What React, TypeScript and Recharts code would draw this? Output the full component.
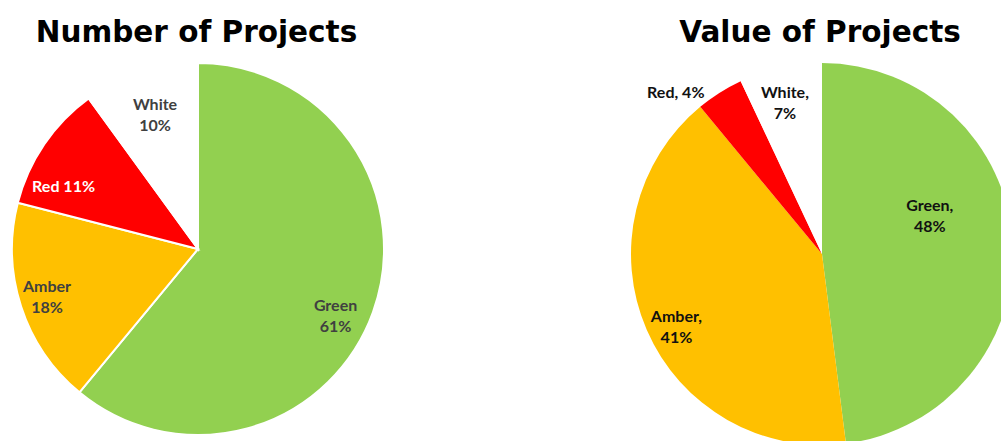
import React from 'react';
import { PieChart, Pie, Cell } from 'recharts';

const categories = ['Green', 'Amber', 'Red', 'White'];
const numberPct = [61, 18, 11, 10];
const valuePct = [48, 41, 4, 7];
const titles = ['Number of Projects', 'Value of Projects'];

const sliceColors = ['#92D050', '#FFC000', '#FF0000', '#FFFFFF'];

const numberData = categories.map((name, i) => ({ name, value: numberPct[i] }));
const valueData = categories.map((name, i) => ({ name, value: valuePct[i] }));

const W = 1001;
const H = 441;
const RAD = Math.PI / 180;

const LEFT = { cx: 198, cy: 249, r: 186 };
const RIGHT = { cx: 822, cy: 254, r: 191 };

// label placement (radius factor, angle nudge in degrees), styling
const leftLayout: Record<string, { f: number; da: number; multi: boolean; color: string }> = {
  Green: { f: 0.82, da: -5.8, multi: true, color: '#404040' },
  Amber: { f: 0.85, da: -0.7, multi: true, color: '#404040' },
  Red: { f: 0.8, da: 8.8, multi: false, color: '#FFFFFF' },
  White: { f: 0.76, da: -0.3, multi: true, color: '#404040' },
};
const rightLayout: Record<string, { f: number; da: number; multi: boolean; color: string }> = {
  Green: { f: 0.6, da: 16.3, multi: true, color: '#111111' },
  Amber: { f: 0.85, da: 2.9, multi: true, color: '#111111' },
  Red: { f: 1.146, da: 9.5, multi: false, color: '#111111' },
  White: { f: 0.82, da: 1.1, multi: true, color: '#111111' },
};

const LABEL_FONT = 'Lato, "Liberation Sans", sans-serif';
const LABEL_SIZE = 16;
const LINE_GAP = 21;

function makeLabel(geom: { cx: number; cy: number; r: number }, layout: typeof leftLayout, sep: string) {
  return (props: any) => {
    const { midAngle, name, value } = props;
    const cfg = layout[name];
    const a = (midAngle + cfg.da) * RAD;
    const x = geom.cx + geom.r * cfg.f * Math.cos(a);
    const y = geom.cy - geom.r * cfg.f * Math.sin(a);
    const common = {
      textAnchor: 'middle' as const,
      dominantBaseline: 'central' as const,
      fill: cfg.color,
      fontFamily: LABEL_FONT,
      fontSize: LABEL_SIZE,
      fontWeight: 700,
    };
    if (!cfg.multi) {
      return (
        <text key={`l-${name}`} x={x} y={y} {...common}>
          {`${name}${sep} ${value}%`}
        </text>
      );
    }
    return (
      <g key={`l-${name}`}>
        <text x={x} y={y - LINE_GAP / 2} {...common}>{`${name}${sep}`}</text>
        <text x={x} y={y + LINE_GAP / 2} {...common}>{`${value}%`}</text>
      </g>
    );
  };
}

const TITLE_FONT = '"DejaVu Sans", Verdana, sans-serif';

export default function App() {
  return (
    <div style={{ position: 'absolute', left: 0, top: 0, width: W, height: H, overflow: 'hidden', background: '#fff' }}>
      <PieChart width={W} height={H} margin={{ top: 0, right: 0, bottom: 0, left: 0 }}>
        <Pie
          data={numberData}
          dataKey="value"
          nameKey="name"
          cx={LEFT.cx}
          cy={LEFT.cy}
          outerRadius={LEFT.r}
          innerRadius={0}
          startAngle={90}
          endAngle={-270}
          stroke="#FFFFFF"
          strokeWidth={2}
          label={makeLabel(LEFT, leftLayout, '')}
          labelLine={false}
          isAnimationActive={false}
        >
          {numberData.map((d, i) => (
            <Cell key={d.name} fill={sliceColors[i]} />
          ))}
        </Pie>
        <Pie
          data={valueData}
          dataKey="value"
          nameKey="name"
          cx={RIGHT.cx}
          cy={RIGHT.cy}
          outerRadius={RIGHT.r}
          innerRadius={0}
          startAngle={90}
          endAngle={-270}
          stroke="none"
          strokeWidth={0}
          label={makeLabel(RIGHT, rightLayout, ',')}
          labelLine={false}
          isAnimationActive={false}
        >
          {valueData.map((d, i) => (
            <Cell key={d.name} fill={sliceColors[i]} />
          ))}
        </Pie>
      </PieChart>
      <svg width={W} height={H} style={{ position: 'absolute', left: 0, top: 0, pointerEvents: 'none' }}>
        <text x={196.5} y={41.5} textAnchor="middle" fontFamily={TITLE_FONT} fontWeight={700} fontSize={29.5} fill="#000">
          {titles[0]}
        </text>
        <text x={820} y={41.5} textAnchor="middle" fontFamily={TITLE_FONT} fontWeight={700} fontSize={29.5} fill="#000">
          {titles[1]}
        </text>
      </svg>
    </div>
  );
}
